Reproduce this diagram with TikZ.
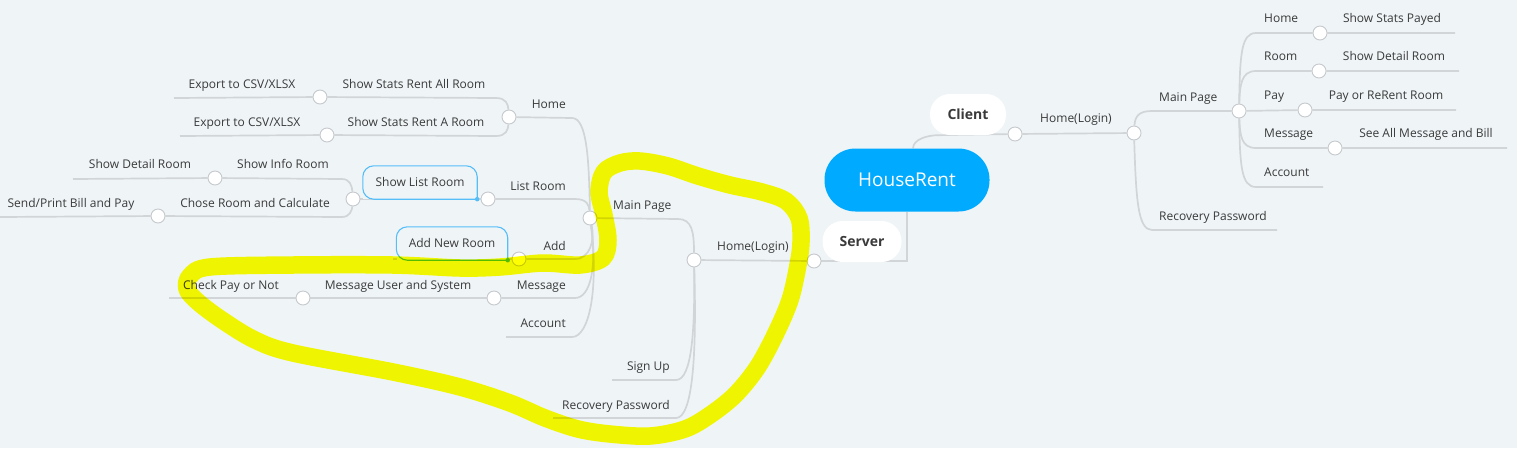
\documentclass[tikz,border=0pt]{standalone}
\usepackage{fontspec}
\setmainfont{Open Sans}
\usetikzlibrary{calc}
\definecolor{bgc}{HTML}{EFF4F7}
\definecolor{lnc}{HTML}{D2D5D8}
\definecolor{cbc}{HTML}{C5C9CD}
\definecolor{txc}{HTML}{3A3A3A}
\definecolor{rootc}{HTML}{00AAFF}
\definecolor{boxc}{HTML}{55BDF7}
\definecolor{hlc}{HTML}{FFFF00}
\pgfdeclarelayer{back}\pgfdeclarelayer{lines}\pgfdeclarelayer{hl}
\pgfsetlayers{back,lines,main,hl}
\begin{document}
\begin{tikzpicture}[x=1pt,y=-1pt,
  ln/.style={draw=lnc, line width=1.7pt},
  btn/.style={circle, draw=cbc, fill=white, line width=0.9pt, minimum size=14pt, inner sep=0pt},
  lbl/.style={text=txc, font=\fontsize{12}{14}\selectfont, inner sep=0pt, text height=8.7pt, text depth=0pt},
  pillnode/.style={rectangle, rounded corners=20pt, fill=white, minimum height=41pt, text=txc, font=\fontsize{14}{16}\selectfont\bfseries, inner sep=0pt, text height=10pt, text depth=0pt},
  rootnode/.style={rectangle, rounded corners=31pt, fill=rootc, minimum width=165pt, minimum height=63pt, text=white, font=\fontsize{19}{22}\selectfont, inner sep=0pt, text height=13.6pt, text depth=0pt},
  boxnode/.style={rectangle, fill=bgc, minimum height=33pt, text=txc, font=\fontsize{12}{14}\selectfont, inner sep=0pt, text height=8.7pt, text depth=0pt},
  boxline/.style={draw=boxc, line width=1.1pt, rounded corners=11pt},
  dotnode/.style={circle, fill=boxc, minimum size=4.5pt, inner sep=0pt},
  endpt/.style={coordinate}]
\useasboundingbox (0,0) rectangle (1517,448);
\begin{pgfonlayer}{back}
\fill[bgc] (0,0) rectangle (1517,448);
\end{pgfonlayer}

% ---------- main nodes
\node[rootnode] (root) at (907,180) {HouseRent};
\node[pillnode, minimum width=76pt] (client) at (968,114.5) {Client};
\node[pillnode, minimum width=79pt] (server) at (862,241.5) {Server};

% ---------- client side
\node[btn] (cC) at (1015,134) {};
\node[btn] (cCH) at (1134,133) {};
\node[btn] (cCM) at (1239,111) {};
\node[btn] (cCHome) at (1320,33) {};
\node[btn] (cCRoom) at (1319,71) {};
\node[btn] (cCPay) at (1305,110) {};
\node[btn] (cCMsg) at (1335,148) {};
\node[endpt] (eCHome) at (1455,33) {};
\node[endpt] (eCRoom) at (1459,71) {};
\node[endpt] (eCPay) at (1456,110) {};
\node[endpt] (eCMsg) at (1507,148) {};
\node[endpt] (eCAcc) at (1323,187) {};
\node[endpt] (eCRec) at (1277,230) {};

\node[lbl] (tCH) at (1076,118) {Home(Login)};
\node[lbl, anchor=west] (tCM) at (1159,97) {Main Page};
\node[lbl, anchor=west] (tCRec) at (1159,216) {Recovery Password};
\node[lbl, anchor=west] (tCHome) at (1264,18) {Home};
\node[lbl, anchor=west] (tCRoom) at (1264,56) {Room};
\node[lbl, anchor=west] (tCPay) at (1264,95) {Pay};
\node[lbl, anchor=west] (tCMsg) at (1264,133) {Message};
\node[lbl, anchor=west] (tCAcc) at (1264,172) {Account};
\node[lbl] (tCStats) at (1392,18) {Show Stats Payed};
\node[lbl] (tCDet) at (1394,56) {Show Detail Room};
\node[lbl] (tCRe) at (1386,95) {Pay or ReRent Room};
\node[lbl] (tCAll) at (1426,133) {See All Message and Bill};

% ---------- server side
\node[btn] (cS) at (814,261) {};
\node[btn] (cSH) at (694,260) {};
\node[btn] (cSM) at (590,218) {};
\node[endpt] (eSU) at (612,380) {};
\node[endpt] (eSRec) at (553,418) {};
\node[btn] (cLHome) at (509,117) {};
\node[btn] (cLList) at (488,199) {};
\node[btn] (cLAdd) at (519,259) {};
\node[btn] (cLMsg) at (494,298) {};
\node[endpt] (eLAcc) at (506,337) {};
\node[btn] (cE1) at (320,97) {};
\node[btn] (cE2) at (327,135) {};
\node[endpt] (eE1) at (174,98) {};
\node[endpt] (eE2) at (180,136) {};
\node[btn] (cSLR) at (353,199) {};
\node[btn] (cSI) at (215,178) {};
\node[btn] (cCR) at (158,216) {};
\node[endpt] (eSI) at (73,179) {};
\node[endpt] (eCR) at (0,217) {};
\node[endpt] (eAddL) at (393,259) {};
\node[btn] (cMU) at (303,298) {};
\node[endpt] (eCP) at (169,298) {};

\node[boxnode, minimum width=114pt] (bSLR) at (420,182.5) {Show List Room};
\draw[boxline] (bSLR.south east) -- (bSLR.south west) -- (bSLR.north west) -- (bSLR.north east) -- (bSLR.south east);
\node[dotnode] (dSLR) at (bSLR.south east) {};
\node[boxnode, minimum width=111pt] (bANR) at (452,243.5) {Add New Room};
\draw[boxline] (bANR.south east) -- (bANR.south west) -- (bANR.north west) -- (bANR.north east) -- (bANR.south east);
\node[dotnode] (dANR) at (bANR.south east) {};

\node[lbl] (tSH) at (753,246) {Home(Login)};
\node[lbl, anchor=west] (tSM) at (613,205) {Main Page};
\node[lbl, anchor=east] (tSU) at (670,366) {Sign Up};
\node[lbl, anchor=east] (tSRec) at (670,405) {Recovery Password};
\node[lbl, anchor=east] (tLHome) at (566,104) {Home};
\node[lbl, anchor=east] (tLList) at (566,186) {List Room};
\node[lbl, anchor=east] (tLAdd) at (566,246) {Add};
\node[lbl, anchor=east] (tLMsg) at (566,285) {Message};
\node[lbl, anchor=east] (tLAcc) at (566,323) {Account};
\node[lbl] (tE1a) at (242,84) {Export to CSV/XLSX};
\node[lbl] (tE2a) at (247,122) {Export to CSV/XLSX};
\node[lbl] (tE1) at (414,84) {Show Stats Rent All Room};
\node[lbl] (tE2) at (416,122) {Show Stats Rent A Room};
\node[lbl] (tSD) at (140,164) {Show Detail Room};
\node[lbl] (tSI) at (283,164) {Show Info Room};
\node[lbl] (tSP) at (71,203) {Send/Print Bill and Pay};
\node[lbl] (tCR) at (255,203) {Chose Room and Calculate};
\node[lbl] (tCP) at (231,285) {Check Pay or Not};
\node[lbl] (tMU) at (398,285) {Message User and System};

% ---------- connectors
\begin{pgfonlayer}{lines}
\draw[ln] ($(root.north)+(6,0)$) .. controls +(0,-9) and +(-10,0) .. ($(client.south west)+(8,0)$) -- (cC);
\draw[ln] (root.south) -- (root.south |- cS) -- (cS);
\draw[ln] (cC) -- (cCH);
\draw[ln] (cCH) .. controls (1135,116) and (1139,111) .. (1152,111) -- (cCM);
\draw[ln] (cCH) .. controls (1136,200) and (1138,230) .. (1152,230) -- (eCRec);
\draw[ln] (cCM) .. controls (1240,55) and (1241,33) .. (1256,33) -- (cCHome) -- (eCHome);
\draw[ln] (cCM) .. controls (1240,85) and (1241,71) .. (1256,71) -- (cCRoom) -- (eCRoom);
\draw[ln] (cCM) -- (cCPay) -- (eCPay);
\draw[ln] (cCM) .. controls (1240,135) and (1241,148) .. (1256,148) -- (cCMsg) -- (eCMsg);
\draw[ln] (cCM) .. controls (1240,165) and (1241,187) .. (1256,187) -- (eCAcc);

\draw[ln] (cS) -- (cSH);
\draw[ln] (cSH) .. controls (694,232) and (692,219) .. (678,219) -- (cSM);
\draw[ln] (cSH) .. controls (695,330) and (692,380) .. (676,380) -- (eSU);
\draw[ln] (cSH) .. controls (697,360) and (692,418) .. (676,418) -- (eSRec);
\draw[ln] (cSM) .. controls (589,160) and (587,118) .. (572,118) -- (cLHome);
\draw[ln] (cSM) .. controls (589,205) and (587,199) .. (575,199) -- (cLList);
\draw[ln] (cSM) .. controls (595,240) and (590,259) .. (575,259) -- (cLAdd);
\draw[ln] (cSM) .. controls (597,265) and (591,298) .. (575,298) -- (cLMsg);
\draw[ln] (cSM) .. controls (599,290) and (589,337) .. (572,337) -- (eLAcc);
\draw[ln] (cLHome) .. controls (508,104) and (506,98) .. (496,98) -- (cE1) -- (eE1);
\draw[ln] (cLHome) .. controls (508,130) and (506,136) .. (496,136) -- (cE2) -- (eE2);
\draw[ln] (cLList) -- (cSLR);
\draw[ln] (cSLR) .. controls (352,186) and (350,179) .. (342,179) -- (cSI) -- (eSI);
\draw[ln] (cSLR) .. controls (352,210) and (350,217) .. (342,217) -- (cCR) -- (eCR);
\draw[ln] (cLAdd) -- (eAddL);
\draw[ln] (cLMsg) -- (cMU) -- (eCP);
\end{pgfonlayer}

% ---------- highlighter
\begin{pgfonlayer}{hl}
\begin{scope}[blend mode=multiply]
\draw[hlc, line width=17.5pt, line join=round, line cap=round]
 plot[smooth cycle, tension=0.55] coordinates {
 (190,276) (210,267) (293,265) (393,265) (460,268) (500,267) (543,263) (580,265)
 (603,258) (608,240) (604,215) (599,192) (604,172) (620,163) (640,161)
 (668,166) (698,176) (730,185) (762,192) (786,201) (799,218) (801,242)
 (798,265) (790,300) (775,335) (757,368) (735,395) (710,415) (685,429)
 (650,436) (610,434) (578,429) (545,418) (510,403) (460,387) (393,372) (293,353)
 (255,340) (222,320) (198,302) (187,289)};
\end{scope}
\end{pgfonlayer}
\end{tikzpicture}
\end{document}
